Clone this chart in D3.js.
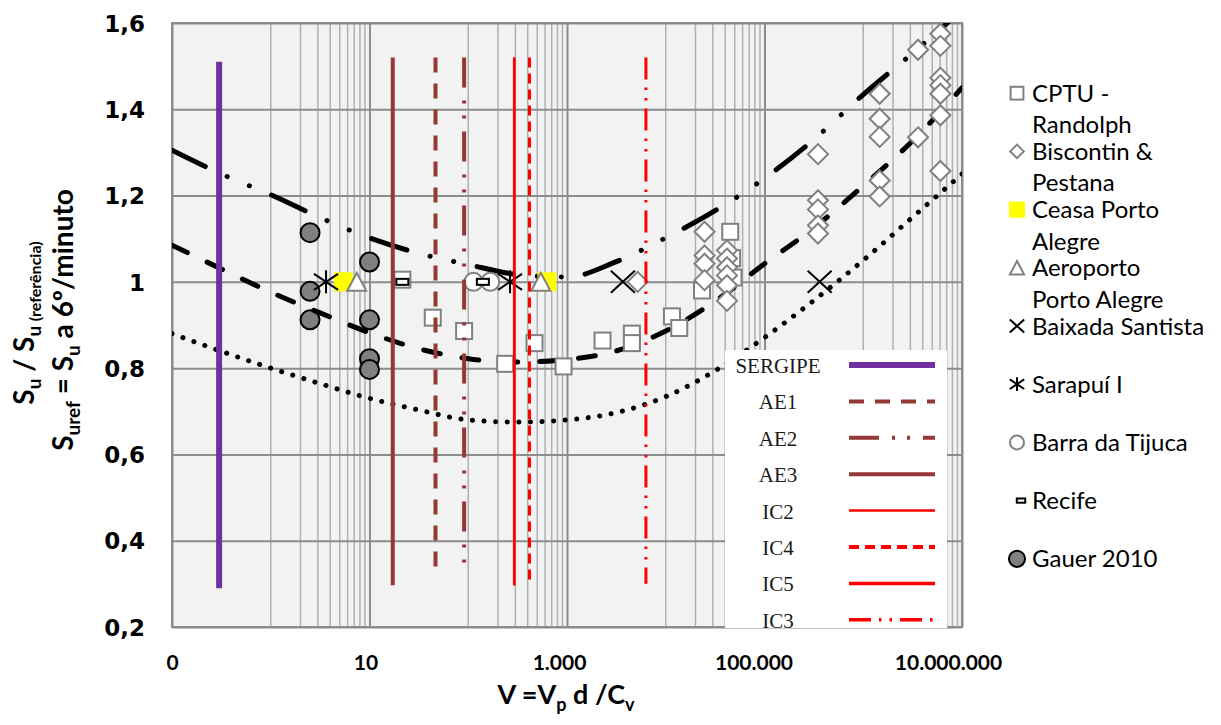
<!DOCTYPE html>
<html>
<head>
<meta charset="utf-8">
<script src="https://cdn.jsdelivr.net/npm/d3@7"></script>
<style>
  body { margin: 0; background: #fff; }
  svg { display: block; }
</style>
</head>
<body>
<script>
// ---- data ----
let xTicks = [0.1, 10, 1000, 100000, 10000000]
let yTicks = [0.2, 0.4, 0.6, 0.8, 1.0, 1.2, 1.4, 1.6]

// sample points of the three trend curves (half decades)
let curveV = [0.1, 0.316, 1, 3.16, 10, 31.6, 100, 316, 1000, 3162, 10000, 31620, 100000, 316200, 1000000, 3162000, 10000000]
let upperCurve = [1.305, 1.250, 1.202, 1.149, 1.102, 1.066, 1.040, 1.017, 1.011, 1.047, 1.102, 1.165, 1.240, 1.330, 1.434, 1.530, 1.630]
let middleCurve = [1.085, 1.030, 0.976, 0.928, 0.882, 0.845, 0.822, 0.814, 0.820, 0.840, 0.886, 0.955, 1.042, 1.125, 1.223, 1.327, 1.450]
let lowerCurve = [0.880, 0.839, 0.800, 0.764, 0.730, 0.703, 0.680, 0.675, 0.680, 0.697, 0.734, 0.794, 0.871, 0.957, 1.050, 1.150, 1.250]

// vertical reference lines
let refNames = ['SERGIPE', 'AE1', 'AE2', 'AE3', 'IC2', 'IC4', 'IC5', 'IC3']
let refV = [0.30, 46.6, 90.8, 17.2, 292, 417, 292, 6300]
let refTop = [1.51, 1.52, 1.52, 1.52, 1.52, 1.52, 1.52, 1.52]
let refBottom = [0.29, 0.317, 0.32, 0.297, 0.297, 0.297, 0.297, 0.30]

// point series
let cptuV = [21.5, 43.7, 90.8, 236.6, 469, 923, 2290, 4540, 4540, 11560, 13700, 23300, 45000, 47000, 48500]
let cptuSu = [1.005, 0.917, 0.886, 0.810, 0.858, 0.804, 0.864, 0.880, 0.858, 0.920, 0.893, 0.980, 1.116, 1.055, 1.010]

let biscV = [5190, 24700, 24700, 24700, 24700, 41700, 41700, 41700, 41700, 41700, 41700,
  348000, 348000, 348000, 348000, 348000, 1466000, 1466000, 1466000, 1466000, 1466000,
  3590000, 3590000, 6040000, 6040000, 6040000, 6040000, 6040000, 6040000, 6040000]
let biscSu = [1.000, 1.116, 1.061, 1.042, 1.004, 1.073, 1.054, 1.034, 1.015, 0.992, 0.956,
  1.296, 1.189, 1.168, 1.131, 1.112, 1.436, 1.378, 1.336, 1.235, 1.198,
  1.538, 1.335, 1.575, 1.547, 1.473, 1.456, 1.436, 1.386, 1.257]

let ceasaV = [5.45, 625], ceasaSu = [1.0, 1.0]
let aeroV = [7.43, 543], aeroSu = [1.0, 1.0]
let baixadaV = [3680, 362000], baixadaSu = [1.0, 1.0]
let sarapuiV = [3.63, 265], sarapuiSu = [1.0, 1.0]
let barraV = [113, 167], barraSu = [1.0, 1.0]
let recifeV = [21.5, 140.6], recifeSu = [1.0, 1.0]
let gauerV = [2.5, 2.5, 2.5, 10, 10, 10, 10]
let gauerSu = [1.114, 0.978, 0.912, 1.046, 0.912, 0.822, 0.797]

let seriesNames = [['CPTU -', 'Randolph'], ['Biscontin &', 'Pestana'], ['Ceasa Porto', 'Alegre'],
  ['Aeroporto', 'Porto Alegre'], ['Baixada Santista'], ['Sarapuí I'], ['Barra da Tijuca'], ['Recife'], ['Gauer 2010']]

// ---- styles ----
let refStyle = {
  SERGIPE: { color: '#7030a0', width: 6, dash: null, lw: 6 },
  AE1: { color: '#953735', width: 4, dash: '15,11', lw: 4 },
  AE2: { color: '#953735', width: 4, dash: '30,13,3,12,3,13', lw: 4 },
  AE3: { color: '#953735', width: 4, dash: null, lw: 4 },
  IC2: { color: '#ff0000', width: 2.5, dash: null, lw: 2.5 },
  IC4: { color: '#ff0000', width: 3, dash: '10,6', lw: 4 },
  IC5: { color: '#ff0000', width: 2.5, dash: null, lw: 3.5 },
  IC3: { color: '#ff0000', width: 3, dash: '22,8,2.5,8,2.5,8', lw: 3.5 }
}
let gray = '#808080'
let xLabelShift = [0, -4, -8, -11, -14]

let width = 1221, height = 725
let plot = { left: 172, right: 962, top: 23, bottom: 627 }

let svg = d3.select('body').append('svg')
  .attr('width', width)
  .attr('height', height)

let x = d3.scaleLog().domain([0.1, 1e7]).range([plot.left, plot.right])
let y = d3.scaleLinear().domain([0.2, 1.6]).range([plot.bottom, plot.top])

let locale = d3.formatLocale({ decimal: ',', thousands: '.', grouping: [3], currency: ['', ''] })
let fmtX = locale.format(',.0f')
let fmtY = locale.format('~g')

// plot background
svg.append('rect')
  .attr('x', plot.left).attr('y', plot.top)
  .attr('width', plot.right - plot.left).attr('height', plot.bottom - plot.top)
  .attr('fill', '#f2f2f2')

// minor vertical gridlines: 10..90 % of each major step (base 100 log axis)
let minorX = []
xTicks.slice(0, -1).forEach(m => {
  for (let k = 1; k <= 9; k++) minorX.push(m * 10 * k)
})
svg.append('g').selectAll('line').data(minorX).join('line')
  .attr('x1', d => x(d)).attr('x2', d => x(d))
  .attr('y1', plot.top).attr('y2', plot.bottom)
  .attr('stroke', '#b0b0b0').attr('stroke-width', 1.5)

// major gridlines via axes
svg.append('g')
  .attr('transform', `translate(0,${plot.bottom})`)
  .call(d3.axisBottom(x).tickValues(xTicks).tickFormat(fmtX).tickSize(-(plot.bottom - plot.top)).tickPadding(0))
  .call(g => g.select('.domain').remove())
  .call(g => g.selectAll('line').attr('stroke', '#8c8c8c').attr('stroke-width', 2))
  .call(g => g.selectAll('text')
    .attr('y', 43).attr('dy', 0)
    .attr('x', (d, i) => xLabelShift[i])
    .attr('fill', '#000')
    .style('font-family', 'Lato, sans-serif')
    .style('font-weight', 'bold')
    .style('font-size', '21px'))

svg.append('g')
  .attr('transform', `translate(${plot.left},0)`)
  .call(d3.axisLeft(y).tickValues(yTicks).tickFormat(fmtY).tickSize(-(plot.right - plot.left)).tickPadding(0))
  .call(g => g.select('.domain').remove())
  .call(g => g.selectAll('line').attr('stroke', '#8c8c8c').attr('stroke-width', 2))
  .call(g => g.selectAll('text')
    .attr('x', -27).attr('dy', '0.36em')
    .attr('fill', '#000')
    .style('font-family', '"DejaVu Sans", sans-serif')
    .style('font-weight', 'bold')
    .style('font-size', '23px'))

// frame
svg.append('rect')
  .attr('x', plot.left).attr('y', plot.top)
  .attr('width', plot.right - plot.left).attr('height', plot.bottom - plot.top)
  .attr('fill', 'none').attr('stroke', '#8c8c8c').attr('stroke-width', 2)

svg.append('clipPath').attr('id', 'clip')
  .append('rect')
  .attr('x', plot.left).attr('y', plot.top)
  .attr('width', plot.right - plot.left).attr('height', plot.bottom - plot.top)

let marks = svg.append('g').attr('clip-path', 'url(#clip)')

// ---- marker shapes ----
let drawMarker = (g, type, cx, cy, s) => {
  let t = `translate(${cx},${cy})`
  if (type === 'square') {
    g.append('rect').attr('x', cx - 8 * s).attr('y', cy - 8 * s).attr('width', 16 * s).attr('height', 16 * s)
      .attr('fill', '#fff').attr('stroke', gray).attr('stroke-width', 2)
  } else if (type === 'diamond') {
    g.append('path').attr('transform', t)
      .attr('d', `M0,${-10 * s}L${10 * s},0L0,${10 * s}L${-10 * s},0Z`)
      .attr('fill', '#fff').attr('stroke', gray).attr('stroke-width', 2)
  } else if (type === 'yellow') {
    g.append('rect').attr('x', cx - 9.5 * s).attr('y', cy - 9.5 * s).attr('width', 19 * s).attr('height', 19 * s)
      .attr('fill', '#ffff00')
  } else if (type === 'triangle') {
    g.append('path').attr('transform', t)
      .attr('d', `M0,${-9 * s}L${9.5 * s},${9 * s}L${-9.5 * s},${9 * s}Z`)
      .attr('fill', '#fff').attr('stroke', gray).attr('stroke-width', 2)
  } else if (type === 'x') {
    g.append('path').attr('transform', t)
      .attr('d', `M${-12 * s},${-11 * s}L${12 * s},${11 * s}M${-12 * s},${11 * s}L${12 * s},${-11 * s}`)
      .attr('stroke', '#000').attr('stroke-width', 2)
  } else if (type === 'star') {
    g.append('path').attr('transform', t)
      .attr('d', `M0,${-11.5 * s}L0,${11.5 * s}M${-12 * s},${-8 * s}L${12 * s},${8 * s}M${-12 * s},${8 * s}L${12 * s},${-8 * s}`)
      .attr('stroke', '#000').attr('stroke-width', 2)
  } else if (type === 'circle') {
    g.append('circle').attr('cx', cx).attr('cy', cy).attr('r', 9 * s)
      .attr('fill', '#fff').attr('stroke', gray).attr('stroke-width', 2)
  } else if (type === 'recife') {
    g.append('rect').attr('x', cx - 6 * s).attr('y', cy - 3 * s).attr('width', 12 * s).attr('height', 6 * s)
      .attr('fill', '#fff').attr('stroke', '#000').attr('stroke-width', 2)
  } else if (type === 'gauer') {
    g.append('circle').attr('cx', cx).attr('cy', cy).attr('r', 9.5 * s)
      .attr('fill', '#808080').attr('stroke', '#000').attr('stroke-width', 2)
  }
}

let drawSeries = (type, vs, sus) => vs.forEach((v, i) => drawMarker(marks, type, x(v), y(sus[i]), 1))

// Gauer points sit under the curves
drawSeries('gauer', gauerV, gauerSu)

// ---- trend curves ----
let line = d3.line().x(d => x(d[0])).y(d => y(d[1])).curve(d3.curveMonotoneX)
let curves = [
  { vals: upperCurve, dash: '37,24,0.1,24,0.1,24' },
  { vals: middleCurve, dash: '17,22' },
  { vals: lowerCurve, dash: '0.1,11.5' }
]
curves.forEach(c => {
  marks.append('path')
    .datum(curveV.map((v, i) => [v, c.vals[i]]))
    .attr('d', line)
    .attr('fill', 'none')
    .attr('stroke', '#000')
    .attr('stroke-width', 5)
    .attr('stroke-linecap', 'round')
    .attr('stroke-dasharray', c.dash)
})

drawSeries('square', cptuV, cptuSu)
drawSeries('diamond', biscV, biscSu)
drawSeries('yellow', ceasaV, ceasaSu)
drawSeries('triangle', aeroV, aeroSu)
drawSeries('x', baixadaV, baixadaSu)
drawSeries('star', sarapuiV, sarapuiSu)
drawSeries('circle', barraV, barraSu)
drawSeries('recife', recifeV, recifeSu)

// ---- vertical reference lines ----
refNames.forEach((n, i) => {
  let st = refStyle[n]
  marks.append('line')
    .attr('x1', x(refV[i])).attr('x2', x(refV[i]))
    .attr('y1', y(refTop[i])).attr('y2', y(refBottom[i]))
    .attr('stroke', st.color)
    .attr('stroke-width', st.width)
    .attr('stroke-dasharray', st.dash)
})

// ---- inner legend for reference lines ----
let lg = svg.append('g')
lg.append('rect').attr('x', 725).attr('y', 350).attr('width', 222).attr('height', 278).attr('fill', '#fff')
refNames.forEach((n, i) => {
  let st = refStyle[n]
  let yy = 365 + i * 36.4
  lg.append('text')
    .attr('x', 778).attr('y', yy + 8)
    .attr('text-anchor', 'middle')
    .style('font-family', '"Liberation Serif", serif')
    .style('font-size', '21px')
    .attr('fill', '#1a1a1a')
    .text(n)
  lg.append('line')
    .attr('x1', 849).attr('x2', 935)
    .attr('y1', yy).attr('y2', yy)
    .attr('stroke', st.color)
    .attr('stroke-width', st.lw)
    .attr('stroke-dasharray', st.dash)
})

// ---- outer legend for point series ----
let markerTypes = ['square', 'diamond', 'yellow', 'triangle', 'x', 'star', 'circle', 'recife', 'gauer']
let markerScale = [0.8, 0.68, 0.85, 0.75, 0.6, 0.6, 0.78, 0.7, 0.85]
let og = svg.append('g')
seriesNames.forEach((lines, i) => {
  let base = 101.7 + i * 58.2
  drawMarker(og, markerTypes[i], i === 7 ? 1021 : 1017, base - 8.5, markerScale[i])
  lines.forEach((t, j) => {
    og.append('text')
      .attr('x', 1032).attr('y', base + j * 31.5)
      .style('font-family', 'Lato, sans-serif')
      .style('font-size', '24px')
      .attr('fill', '#000')
      .text(t)
  })
})

// ---- axis titles ----
let xt = svg.append('text')
  .attr('x', 566).attr('y', 704)
  .attr('text-anchor', 'middle')
  .style('font-family', 'Lato, sans-serif')
  .style('font-weight', 'bold')
  .style('font-size', '27px')
xt.append('tspan').text('V =V')
xt.append('tspan').attr('dy', 7).style('font-size', '18px').text('p')
xt.append('tspan').attr('dy', -7).text(' d /C')
xt.append('tspan').attr('dy', 7).style('font-size', '18px').text('v')

let yt1 = svg.append('text')
  .attr('transform', 'translate(34,323) rotate(-90)')
  .attr('text-anchor', 'middle')
  .style('font-family', 'Lato, sans-serif')
  .style('font-weight', 'bold')
  .style('font-size', '28px')
yt1.append('tspan').text('S')
yt1.append('tspan').attr('dy', 7).style('font-size', '19px').text('u')
yt1.append('tspan').attr('dy', -7).text(' / S')
yt1.append('tspan').attr('dy', 7).style('font-size', '19px').text('u ')
yt1.append('tspan').style('font-size', '16px').text('(referência)')

let yt2 = svg.append('text')
  .attr('transform', 'translate(73,320) rotate(-90)')
  .attr('text-anchor', 'middle')
  .style('font-family', 'Lato, sans-serif')
  .style('font-weight', 'bold')
  .style('font-size', '28px')
yt2.append('tspan').text('S')
yt2.append('tspan').attr('dy', 7).style('font-size', '19px').text('uref')
yt2.append('tspan').attr('dy', -7).text(' = S')
yt2.append('tspan').attr('dy', 7).style('font-size', '19px').text('u')
yt2.append('tspan').attr('dy', -7).text(' a 6º/minuto')
</script>
</body>
</html>
